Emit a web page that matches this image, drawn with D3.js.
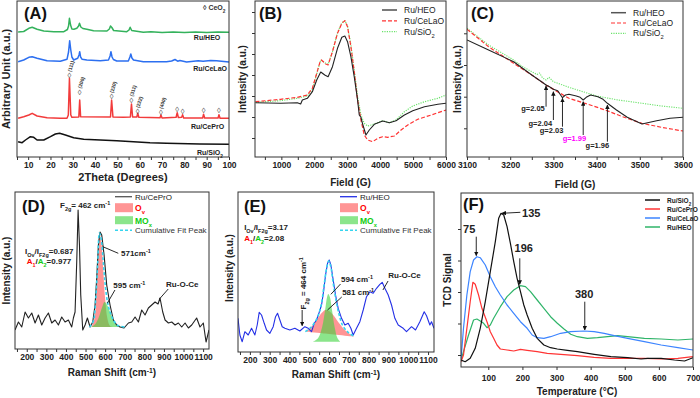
<!DOCTYPE html>
<html>
<head>
<meta charset="utf-8">
<script src="https://cdn.jsdelivr.net/npm/d3@7"></script>
<style>
  body { margin: 0; background: #fff; }
  svg { font-family: "Liberation Sans", Arial, sans-serif; }
</style>
</head>
<body>
<svg width="700" height="398"></svg>
<script>
// ---------- (A) XRD ----------
const xrdTicks = [10, 20, 30, 40, 50, 60, 70, 80, 90, 100];
const xrdHEO = [[5.5,125],[8,125.5],[10.3,128.7],[11.8,129.7],[14,127.7],[17,126],[21.5,125.3],[26,125.3],[27.6,127.5],[28.1,131],[28.5,138.7],[29,132],[29.6,128],[30.5,127.7],[31.8,128.7],[32.6,131],[33,133.7],[33.6,130],[34.5,128.5],[36.3,127.7],[39.3,126.3],[45.3,126],[46.4,128],[46.9,131],[47.5,129.5],[48.3,126.5],[54.2,125.3],[55.2,127],[55.7,129.7],[56.4,126.5],[61.6,124.7],[65,125.3],[70,124.5],[75,125],[80,124.5],[85,125],[90,124.4],[95,124.9],[100,124.7]];
const xrdCeLaO = [[5.5,95.3],[8,97],[10.3,99.7],[11.8,100.3],[14,98.7],[18.5,96.3],[24.4,95.7],[27.4,97.7],[28.1,105],[28.6,116.3],[29.1,107],[29.6,100],[30.4,97],[32.2,98.7],[32.8,102],[33.1,105.3],[33.5,100],[34.2,97.7],[36.3,97],[42.3,96.3],[46,97],[46.7,101],[47.1,105.3],[47.6,100],[48.2,97.5],[49.7,96],[54.9,96],[55.6,100],[56,103],[56.5,99],[57.2,97],[61.6,95.3],[72,95.3],[74.3,96],[75.8,97.5],[77,95.8],[78,96.5],[81,95],[86.2,96.3],[88.4,95.7],[91.8,96.5],[94.4,96.3],[100,95]];
const xrdCePrO = [[5.5,38.7],[8,40.3],[10.3,42],[11.8,43.7],[14,41],[18.5,39.3],[24.4,38.7],[27.4,38.7],[28,42],[28.5,78.7],[29.1,42],[29.6,39.7],[32.7,40],[33.1,57],[33.5,40.3],[46.9,40],[47.4,57],[48,40],[52.7,39.7],[55.8,40],[56.3,53],[56.8,40],[58.7,40],[59.1,43.7],[59.6,39.7],[69.1,39.3],[69.5,42],[70,39],[76.3,39.7],[76.8,44.3],[77.3,39.5],[78.8,39.7],[79.2,42.3],[79.7,39],[88.2,39],[88.6,42.7],[89.1,39],[95.1,39],[95.5,42.3],[96,38.7],[100,38.7]];
const xrdSiO2 = [[5.5,15.3],[7.3,14.3],[8.8,17],[11,20.3],[12.5,19.7],[14,17],[17,17],[20,20.3],[22.2,23],[24.1,23.7],[26.7,22],[30.4,19.3],[34.9,17.7],[42.3,17],[49.7,16.3],[57.2,15.3],[64.6,14.3],[72,13.7],[86.9,13],[100,12.7]];
const ceo2Peaks = [28.5, 33.1, 47.4, 56.3, 59.1, 69.5, 76.8, 79.2, 88.6, 95.5];
const ceo2Marks = [81, 64.3, 59.7, 56.3, 44.7, 43.7, 47, 44.7, 46, 46];
const hklLabels = ["(111)", "(200)", "(220)", "(311)", "(222)", "(400)"];

// ---------- (B) EPR wide ----------
const eprTicks = [1000, 2000, 3000, 4000, 5000, 6000];
const eprYTicks = [19, 40, 61, 82, 103, 124, 145];
const eprHEO = [[215,54.3],[977,53.7],[1485,54.3],[1587,53],[1638,57],[1790,58.7],[1942,65.3],[2074,77],[2196,85],[2318,82],[2420,80.3],[2552,90.3],[2705,108.7],[2837,119.7],[2929,121],[3010,115.3],[3112,100.3],[3213,80.3],[3315,57],[3366,42],[3417,39.7],[3468,33],[3569,22],[3671,27],[3823,32.7],[4077,36],[4280,34.3],[4483,36.3],[4737,42],[4991,46.3],[5347,50.3],[5753,52.7],[6000,53.7]];
const eprCeLaO = [[215,55.3],[977,57.7],[1485,59.7],[1790,62],[1942,68.7],[2074,83.7],[2176,95.3],[2217,97],[2349,93],[2420,92],[2552,105.3],[2705,123.7],[2837,133.7],[2929,136.3],[3010,130.3],[3112,110.3],[3213,85.3],[3315,57],[3417,37],[3518,22],[3620,17],[3772,15.3],[3925,18.7],[4077,20.3],[4229,19.7],[4432,21],[4635,27],[4839,32],[5143,37.7],[5550,42],[6000,47]];
const eprSiO2 = [[215,54.7],[977,56.3],[1485,58.7],[1790,61],[1942,67.7],[2074,83],[2196,97],[2349,93.7],[2420,92.7],[2552,105.3],[2705,124.3],[2837,134.3],[2929,136.3],[3010,131],[3112,112],[3213,87],[3315,60.3],[3417,42],[3518,33.7],[3620,31],[3722,32],[3925,34.3],[4077,36.3],[4280,34.3],[4483,37],[4737,45.3],[4991,51],[5347,55.3],[5753,58.7],[6000,62]];

// ---------- (C) EPR zoom ----------
const esrTicks = [3100, 3200, 3300, 3400, 3500, 3600];
const esrYTicks = [28.7, 60.3, 92, 123.7];
const esrHEO = [[3100,117],[3150,107],[3208,95.3],[3250,82],[3275,74.5],[3283,72],[3290,70.5],[3300,67.7],[3310,66.3],[3321,59.3],[3328,62],[3336,62.7],[3353,61],[3362,59.7],[3369,57],[3376,59.7],[3386,62],[3403,60.3],[3415,57.7],[3425,53.7],[3446,47],[3471,39.7],[3505,33],[3539,36.3],[3570,38.7],[3600,39.7]];
const esrCeLaO = [[3100,127.7],[3150,110.3],[3208,93.7],[3250,82],[3283,72],[3336,58.7],[3380,52.7],[3420,47],[3460,40.3],[3505,33.7],[3550,29.7],[3600,26]];
const esrSiO2 = [[3100,128.7],[3150,112],[3208,97],[3230,90],[3250,85.3],[3262,82.5],[3268,84],[3275,79],[3283,77],[3290,79.7],[3300,75.3],[3336,69.7],[3400,61],[3450,57],[3505,53.7],[3550,51],[3600,48.7]];
const gLabels = ["g=2.05", "g=2.04", "g=2.03", "g=1.99", "g=1.96"];
const gFields = [3283, 3300, 3321, 3369, 3425];

// ---------- (D)/(E) Raman ----------
const ramanTicks = [200, 300, 400, 500, 600, 700, 800, 900, 1000, 1100];
const ramanCePrO = [[140,19],[157.5,27],[174.5,22],[191.5,37],[208.5,31],[225.5,36],[242.5,26],[259.5,34],[276.5,24],[293.5,31],[310.5,36],[327.5,26],[344.5,29],[361.5,24],[378.5,32],[395.5,27],[412.5,29],[429.5,22],[438,31],[446.5,37],[455,87],[462,139],[469,104],[475.5,54],[485.7,19],[497.6,24],[509.5,31],[523,22],[536.7,27],[548.6,44],[557,71],[565.6,104],[574,117],[582.6,114],[594.6,94],[608,64],[625,44],[642,29],[659,24],[676,22],[696.6,21],[718.7,26],[735.7,27],[752.7,32],[769.7,27],[786.7,39],[803.7,34],[820.7,41],[837.7,44],[854.7,47],[870,45],[880,51],[893.9,37],[905.8,29],[922.8,26],[939.8,27],[956.8,24],[973.8,26],[990.8,22],[1007.8,26],[1024.8,21],[1041.8,24],[1067,31],[1084,22],[1101,26],[1115,7],[1130,19]];
const ovFitD = [[530,22,22],[545,22,30],[555,22,55],[563,22,90],[571,22,115],[580,22,108],[590,22,80],[600,22,50],[612,22,30],[625,22,23],[640,22,22]];
const moxFitD = [[530,22,22],[550,22,25],[570,22,33],[585,22,42],[597,22,47],[610,22,44],[625,22,37],[645,22,28],[665,22,23.5],[685,22,22]];
const sumFitD = [[520,22],[540,28],[552,50],[562,85],[571,116],[580,110],[590,88],[600,65],[612,47],[625,37],[645,28],[665,23.5],[700,22]];

const ramanHEO = [[140,33.7],[149.5,17],[161.3,10.3],[174.7,20.3],[191.6,17],[208.4,23.7],[225.3,17],[237,27],[247.1,39.7],[258.9,37],[272.4,28.7],[284.2,22],[301,18.7],[317.8,25.3],[329.6,35.3],[339.7,38.7],[351.5,32],[363.3,25.3],[376.8,23.7],[402,22],[427.3,23.7],[452.5,21],[477.8,25.3],[494.6,23.7],[511.5,20.3],[524.9,28.7],[536.7,32],[548.5,38.7],[562,47],[572.1,60.3],[582.2,77],[592.3,88.7],[600.7,92],[609.1,87],[620.9,72],[632.7,57],[646.1,43.7],[663,33.7],[679.8,27],[696.6,28.7],[710.1,23.7],[721.9,17],[738.7,23.7],[755.6,30.3],[772.4,42],[789.2,55.3],[806.1,60.3],[822.9,58.7],[839.7,63.7],[856.6,67.7],[868.4,69.7],[881.8,63.7],[898.7,57],[915.5,47],[932.3,33.7],[949.2,27],[974.4,23.7],[991.2,20.3],[1016.5,25.3],[1036.7,22],[1058.6,30.3],[1080.5,40.3],[1092.3,36.3],[1109.1,27],[1117.5,30.3],[1130,23.7]];
const ovFitE = [[483,20.3,20.3],[510,19.8,25],[540,19.2,33],[565,18.7,39.5],[581,18.4,42],[600,18,41],[625,17.5,36],[650,17,29],[680,16.3,22],[705,15.8,18],[727,15.3,15.3]];
const moxFitE = [[520,10.3,10.3],[545,10.3,14],[565,10.3,25],[580,10.3,42],[590,10.3,55],[596,10.3,58],[604,10.3,55],[614,10.3,43],[628,10.3,25],[642,10.3,14],[656,10.3,10.3]];
const sumFitE = [[480,20.3],[510,25],[540,34],[560,47],[575,67],[588,84],[598,91],[608,86],[620,70],[635,52],[650,38],[670,26],[700,19],[730,15.3]];

// ---------- (F) H2-TPR ----------
const tprTicks = [100, 200, 300, 400, 500, 600, 700];
const tprYTicks = [12, 43.5, 75, 106.5, 138];
const tprSiO2 = [[20,7],[32.3,5.3],[47,8.7],[61.7,18.7],[76.4,38.7],[91.2,65.3],[105.9,95.3],[120.6,125.3],[130.4,148.7],[137.3,153.7],[145.2,152],[155,140.3],[164.8,123.7],[174.6,105.3],[184.4,88.7],[194.3,75.3],[204.1,62],[213.9,52],[228.6,38.7],[243.3,28.7],[263,22],[282.6,19.3],[302.3,18],[331.7,16.7],[361.2,15.3],[410.3,12.7],[459.3,10.3],[508.4,9.3],[547.7,8],[567.3,8.7],[606.6,8.7],[645.9,7],[675.3,6],[700,9.3]];
const tprCePrO = [[20,5.3],[27.3,12],[37.2,38.7],[47,65.3],[54.8,84.7],[61.7,82.7],[71.5,72],[81.3,58.7],[96.1,45.3],[105.9,35.3],[115.7,28.7],[125.5,22],[135.3,18],[155,17],[174.6,16],[194.3,17.7],[213.9,16.7],[243.3,15.3],[272.8,13.7],[312.1,12.7],[361.2,11.3],[410.3,9.7],[459.3,8.7],[557.5,8.7],[606.6,8],[655.7,8.7],[700,10.3]];
const tprCeLaO = [[20,7],[27.3,38.7],[37.2,72],[47,95.3],[56.8,107],[66.6,110.3],[76.4,109.3],[91.2,102],[105.9,90.3],[120.6,80.3],[135.3,72],[155,62],[174.6,53.7],[194.3,45.3],[213.9,38.7],[228.6,32],[243.3,29.3],[263,28.7],[282.6,30.3],[312.1,33.7],[341.5,35.3],[380.8,36],[410.3,35.3],[439.7,33.7],[469.2,31.3],[508.4,28.7],[557.5,25.3],[606.6,22],[655.7,19.3],[700,17]];
const tprHEO = [[20,7],[27.3,15.3],[42.1,32],[56.8,47],[66.6,48],[76.4,46],[86.3,43.7],[96.1,39.3],[105.9,42],[115.7,48.7],[135.3,60.3],[155,70.3],[174.6,77],[194.3,81.3],[209,80.3],[223.7,75.3],[243.3,67],[263,58.7],[282.6,50.3],[302.3,43.7],[321.9,38],[341.5,32.7],[361.2,30.3],[390.6,28.7],[420.1,29.3],[449.5,30.3],[479,31.3],[508.4,30.3],[557.5,28.7],[606.6,28],[655.7,27],[700,28]];

// ---------- drawing ----------
const svg = d3.select("svg");
const defs = svg.append("defs");
defs.append("marker").attr("id", "arr")
  .attr("viewBox", "0 0 10 10").attr("refX", 9).attr("refY", 5)
  .attr("markerWidth", 5).attr("markerHeight", 5).attr("orient", "auto")
  .append("path").attr("d", "M0,0L10,5L0,10z").attr("fill", "#111");

let clipId = 0;
function panel(o) {
  const g = svg.append("g");
  const x = d3.scaleLinear().domain(o.xd).range([o.l, o.r]);
  const y = d3.scaleLinear().domain(o.yd).range([o.b, o.t]);
  const id = "clip" + (clipId++);
  defs.append("clipPath").attr("id", id).append("rect")
    .attr("x", o.l).attr("y", o.t).attr("width", o.r - o.l).attr("height", o.b - o.t);
  const plot = g.append("g").attr("clip-path", `url(#${id})`);

  const xa = g.append("g").attr("transform", `translate(0,${o.b})`)
    .call(d3.axisBottom(x).tickValues(o.xt).tickSize(3).tickSizeOuter(0).tickPadding(o.pad || 2)
      .tickFormat(d => o.xl.includes(d) ? d : ""));
  xa.select(".domain").remove();
  xa.selectAll("text").attr("font-size", 8.5).attr("font-weight", "bold").attr("fill", "#222")
    .attr("font-family", "Liberation Sans, Arial, sans-serif");
  xa.selectAll("line").attr("stroke", "#333");
  if (o.yt) {
    const ya = g.append("g").attr("transform", `translate(${o.l},0)`)
      .call(d3.axisLeft(y).tickValues(o.yt).tickSize(3).tickFormat(""));
    ya.select(".domain").remove();
    ya.selectAll("line").attr("stroke", "#333");
  }
  g.append("rect").attr("x", o.l).attr("y", o.t).attr("width", o.r - o.l).attr("height", o.b - o.t)
    .attr("fill", "none").attr("stroke", "#333").attr("stroke-width", 1);

  g.append("text").attr("x", (o.l + o.r) / 2).attr("y", o.xtY)
    .attr("text-anchor", "middle").attr("font-size", o.tsize || 10).attr("font-weight", "bold").attr("fill", "#222")
    .call(t => rich(t, o.xtitle));
  g.append("text").attr("transform", `translate(${o.ytX},${o.ytY || (o.t + o.b) / 2}) rotate(-90)`)
    .attr("text-anchor", "middle").attr("font-size", o.tsize || 10).attr("font-weight", "bold").attr("fill", "#222")
    .text(o.ytitle);
  g.append("text").attr("x", o.lab[0]).attr("y", o.lab[1])
    .attr("font-size", 16.5).attr("font-weight", "bold").attr("fill", "#111").text(o.label);
  return { g, plot, x, y };
}

// parts: string or [text, "sub"|"sup"|"", color]
function rich(t, parts) {
  if (typeof parts === "string") parts = [parts];
  const fs = +t.attr("font-size") || 8;
  parts.forEach(p => {
    const [s, mode, col] = Array.isArray(p) ? p : [p, "", null];
    const ts = t.append("tspan").text(s);
    if (mode === "sub") ts.attr("baseline-shift", "sub").attr("font-size", fs * 0.68);
    if (mode === "sup") ts.attr("baseline-shift", "super").attr("font-size", fs * 0.68);
    if (col) ts.attr("fill", col);
  });
  return t;
}
function label(g, x, y, parts, opt = {}) {
  const t = g.append("text").attr("x", x).attr("y", y)
    .attr("font-size", opt.size || 8).attr("font-weight", opt.weight || "bold")
    .attr("text-anchor", opt.anchor || "start").attr("fill", opt.fill || "#222");
  if (opt.rotate) t.attr("transform", `rotate(${opt.rotate},${x},${y})`);
  return rich(t, parts);
}
function arrow(g, x1, y1, x2, y2, head = true) {
  const l = g.append("line").attr("x1", x1).attr("y1", y1).attr("x2", x2).attr("y2", y2)
    .attr("stroke", "#111").attr("stroke-width", 0.9);
  if (head) l.attr("marker-end", "url(#arr)");
}
function drawLine(P, data, color, opt = {}) {
  const line = d3.line().x(d => P.x(d[0])).y(d => P.y(d[1]));
  if (opt.curve) line.curve(opt.curve);
  P.plot.append("path").datum(data).attr("d", line).attr("fill", "none")
    .attr("stroke", color).attr("stroke-width", opt.w || 1)
    .attr("stroke-dasharray", opt.dash || null).attr("stroke-linejoin", "round");
}
function drawArea(P, data, color, op) {
  const area = d3.area().x(d => P.x(d[0])).y0(d => P.y(d[1])).y1(d => P.y(d[2])).curve(d3.curveCatmullRom);
  P.plot.append("path").datum(data).attr("d", area).attr("fill", color).attr("fill-opacity", op);
}

// ----- (A)
const A = panel({ l: 17, r: 229, t: 1, b: 157, xd: [5, 100], yd: [0, 156], xt: [5,10,15,20,25,30,35,40,45,50,55,60,65,70,75,80,85,90,95,100],
  xl: xrdTicks, xtitle: "2Theta (Degrees)", xtY: 181, ytitle: "Arbitrary Unit (a.u.)", ytX: 10, tsize: 11,
  label: "(A)", lab: [24, 19] });
drawLine(A, xrdSiO2, "#111", { w: 1.5 });
drawLine(A, xrdCePrO, "#f23b3b", { w: 1.5 });
drawLine(A, xrdCeLaO, "#2c6ff0", { w: 1.5 });
drawLine(A, xrdHEO, "#34b25c", { w: 1.5 });
ceo2Peaks.forEach((p, i) => {
  A.g.append("text").attr("x", A.x(p)).attr("y", A.y(ceo2Marks[i]) + 2).attr("text-anchor", "middle")
    .attr("font-size", 7.5).attr("fill", "#444").text("\u25CA");
  if (hklLabels[i]) label(A.g, A.x(p) + 1.5, A.y(ceo2Marks[i]) - 4, hklLabels[i], { size: 5, rotate: -72, fill: "#333" });
});
label(A.g, 203, 10, ["\u25CA CeO", ["2", "sub"]], { size: 7, fill: "#333" });
[["Ru/HEO", 96.1, 117], ["Ru/CeLaO", 99.1, 86], ["Ru/CePrO", 97.8, 28]].forEach(d =>
  label(A.g, A.x(d[1]), A.y(d[2]), d[0], { size: 7, anchor: "end" }));
label(A.g, A.x(97.3), A.y(2), ["Ru/SiO", ["2", "sub"]], { size: 7, anchor: "end" });

// ----- (B)
const B = panel({ l: 255, r: 446, t: 1, b: 157, xd: [200, 6000], yd: [0, 156],
  xt: [500,1000,1500,2000,2500,3000,3500,4000,4500,5000,5500,6000], xl: eprTicks, yt: eprYTicks,
  xtitle: "Field (G)", xtY: 186, ytitle: "Intensity (a.u.)", ytX: 246, label: "(B)", lab: [259, 19] });
drawLine(B, eprSiO2, "#6be36b", { w: 1.2, dash: "1.2,1.2" });
drawLine(B, eprCeLaO, "#f33", { w: 1.2, dash: "4,2" });
drawLine(B, eprHEO, "#222", { w: 1.1 });
function legendLines(P, x0, y0, dy, items, size) {
  items.forEach((it, i) => {
    const yy = y0 + i * dy;
    P.g.append("line").attr("x1", x0).attr("x2", x0 + 15).attr("y1", yy).attr("y2", yy)
      .attr("stroke", it.c).attr("stroke-width", it.w || 1.2).attr("stroke-dasharray", it.dash || null);
    label(P.g, x0 + 22, yy + 3, it.t, { size: size || 8.5, weight: it.bold ? "bold" : "normal", fill: "#222" });
  });
}
legendLines(B, 382, 10, 10.8, [
  { t: "Ru/HEO", c: "#222" },
  { t: "Ru/CeLaO", c: "#f33", dash: "4,2" },
  { t: ["Ru/SiO", ["2", "sub"]], c: "#6be36b", dash: "1.2,1.2" }]);

// ----- (C)
const C = panel({ l: 467, r: 683, t: 1, b: 157, xd: [3100, 3600], yd: [0, 156],
  xt: [3100,3150,3200,3250,3300,3350,3400,3450,3500,3550,3600], xl: esrTicks, yt: esrYTicks,
  xtitle: "Field (G)", xtY: 188, ytitle: "Intensity (a.u.)", ytX: 461, label: "(C)", lab: [471, 19] });
drawLine(C, esrSiO2, "#6be36b", { w: 1.1, dash: "1.2,1.2" });
drawLine(C, esrCeLaO, "#f33", { w: 1.2, dash: "4,2" });
drawLine(C, esrHEO, "#222", { w: 1.1 });
legendLines(C, 611, 12.7, 10.3, [
  { t: "Ru/HEO", c: "#555", w: 1.5 },
  { t: "Ru/CeLaO", c: "#f33", dash: "4,2" },
  { t: ["Ru/SiO", ["2", "sub"]], c: "#6be36b", dash: "1.2,1.2" }]);
// arrow tail, arrow head, text end field, text baseline
[[50.3, 71, 3280, 46.3], [37, 65.3, 3297, 31.3], [30.3, 58.7, 3323, 23.7], [22, 55.3, 3376, 16.3], [15.3, 52, 3429, 8.7]]
  .forEach((a, i) => {
    arrow(C.g, C.x(gFields[i]), C.y(a[0]), C.x(gFields[i]), C.y(a[1]));
    label(C.g, C.x(a[2]), C.y(a[3]), gLabels[i], { size: 7.5, anchor: "end", fill: i === 3 ? "#f0f" : "#222" });
  });

// ----- (D)
const ramanMinor = [150,200,250,300,350,400,450,500,550,600,650,700,750,800,850,900,950,1000,1050,1100];
const D = panel({ l: 15, r: 209, t: 192, b: 349, xd: [140, 1130], yd: [0, 157], xt: ramanMinor, xl: ramanTicks,
  xtitle: ["Raman Shift (cm", ["-1", "sup"], ")"], xtY: 376, ytitle: "Intensity (a.u.)", ytX: 10,
  label: "(D)", lab: [22, 212] });
drawArea(D, ovFitD, "#ff5c5c", 0.65);
drawArea(D, moxFitD, "#3ed43e", 0.6);
drawLine(D, ramanCePrO, "#222", { w: 1.1 });
drawLine(D, sumFitD, "#36d4ee", { w: 1.6, dash: "3,2", curve: d3.curveCatmullRom });
function fitLegend(P, x0, y0, first, firstColor) {
  P.g.append("line").attr("x1", x0).attr("x2", x0 + 17).attr("y1", y0).attr("y2", y0)
    .attr("stroke", firstColor).attr("stroke-width", 1.3);
  label(P.g, x0 + 20, y0 + 3, first, { size: 8, weight: "normal" });
  P.g.append("rect").attr("x", x0).attr("y", y0 + 6.5).attr("width", 18).attr("height", 9)
    .attr("fill", "#ff5c5c").attr("fill-opacity", 0.65);
  label(P.g, x0 + 20, y0 + 14, ["O", ["v", "sub"]], { size: 8.5, fill: "#f00" });
  P.g.append("rect").attr("x", x0).attr("y", y0 + 19.5).attr("width", 18).attr("height", 8)
    .attr("fill", "#3ed43e").attr("fill-opacity", 0.6);
  label(P.g, x0 + 20, y0 + 27, ["MO", ["x", "sub"]], { size: 8.5, fill: "#1c1" });
  P.g.append("line").attr("x1", x0).attr("x2", x0 + 17).attr("y1", y0 + 33.5).attr("y2", y0 + 33.5)
    .attr("stroke", "#36d4ee").attr("stroke-width", 1.6).attr("stroke-dasharray", "3,2");
  label(P.g, x0 + 20, y0 + 36.5, "Cumulative Fit Peak", { size: 8, weight: "normal", fill: "#333" });
}
fitLegend(D, 115, 196.7, "Ru/CePrO", "#555");
label(D.g, D.x(370), D.y(141.3), ["F", ["2g", "sub"], "= 462 cm", ["-1", "sup"]], { size: 8 });
label(D.g, D.x(191.5), D.y(94.7), ["I", ["Ov", "sub"], "/I", ["F2g", "sub"], "=0.687"], { size: 8 });
label(D.g, D.x(200), D.y(84.7), [["A", "", "#f00"], ["1", "sub", "#f00"], "/", ["A", "", "#1c1"], ["2", "sub", "#1c1"], "=0.977"], { size: 8 });
arrow(D.g, D.x(588), D.y(102.3), D.x(667), D.y(95.7), false);
label(D.g, D.x(681), D.y(93.3), ["571cm", ["-1", "sup"]], { size: 8 });
arrow(D.g, D.x(611), D.y(45.7), D.x(650), D.y(59), false);
label(D.g, D.x(642), D.y(61), ["595 cm", ["-1", "sup"]], { size: 8 });
arrow(D.g, D.x(877), D.y(50), D.x(922), D.y(60), false);
label(D.g, D.x(911), D.y(62.3), "Ru-O-Ce", { size: 8 });

// ----- (E)
const E = panel({ l: 238, r: 434, t: 192, b: 352, xd: [140, 1130], yd: [0, 160], xt: ramanMinor, xl: ramanTicks,
  xtitle: ["Raman Shift (cm", ["-1", "sup"], ")"], xtY: 378, ytitle: "Intensity (a.u.)", ytX: 233, ytY: 268,
  label: "(E)", lab: [244, 212] });
drawArea(E, ovFitE, "#ff5c5c", 0.65);
drawArea(E, moxFitE, "#3ed43e", 0.6);
drawLine(E, ramanHEO, "#2430e6", { w: 1.1 });
drawLine(E, sumFitE, "#36d4ee", { w: 1.6, dash: "3,2", curve: d3.curveCatmullRom });
fitLegend(E, 340, 196.7, "Ru/HEO", "#2430e6");
label(E.g, E.x(171), E.y(122), ["I", ["Ov", "sub"], "/I", ["F2g", "sub"], "=3.17"], { size: 8 });
label(E.g, E.x(171), E.y(111), [["A", "", "#f00"], ["1", "sub", "#f00"], "/", ["A", "", "#1c1"], ["2", "sub", "#1c1"], "=2.08"], { size: 8 });
label(E.g, E.x(482), E.y(68.7), ["F", ["2g", "sub"], " = 464 cm", ["-1", "sup"]], { size: 8, rotate: -90, anchor: "middle" });
arrow(E.g, E.x(464), E.y(42), E.x(464), E.y(26.3));
arrow(E.g, E.x(609), E.y(57.7), E.x(658), E.y(68), false);
label(E.g, E.x(660), E.y(69.7), ["594 cm", ["-1", "sup"]], { size: 8 });
arrow(E.g, E.x(592), E.y(42), E.x(664), E.y(55), false);
label(E.g, E.x(666), E.y(57), ["581 cm", ["-1", "sup"]], { size: 8 });
arrow(E.g, E.x(872), E.y(62), E.x(898), E.y(71), false);
label(E.g, E.x(899), E.y(73.7), "Ru-O-Ce", { size: 8 });

// ----- (F)
const F = panel({ l: 461, r: 693, t: 193, b: 367, xd: [20, 700], yd: [0, 174],
  xt: tprTicks, xl: tprTicks, yt: tprYTicks, pad: 5,
  xtitle: "Temperature (\u00B0C)", xtY: 395, ytitle: "TCD Signal", ytX: 451, ytY: 280,
  label: "(F)", lab: [463, 210] });
drawLine(F, tprHEO, "#2fb469", { w: 1.2 });
drawLine(F, tprCeLaO, "#3c84ff", { w: 1.2 });
drawLine(F, tprCePrO, "#ff3434", { w: 1.2 });
drawLine(F, tprSiO2, "#111", { w: 1.2 });
legendLines(F, 645, 200, 9, [
  { t: ["Ru/SiO", ["2", "sub"]], c: "#111", w: 1.5, bold: true },
  { t: "Ru/CePrO", c: "#ff3434", w: 1.5, bold: true },
  { t: "Ru/CeLaO", c: "#3c84ff", w: 1.5, bold: true },
  { t: "Ru/HEO", c: "#2fb469", w: 1.5, bold: true }], 6.5);
arrow(F.g, F.x(194), F.y(154.7), F.x(140), F.y(153.7));
label(F.g, F.x(199), F.y(150), "135", { size: 11 });
arrow(F.g, F.x(64.7), F.y(130.3), F.x(64.7), F.y(111.3));
label(F.g, F.x(44), F.y(133.7), "75", { size: 11, anchor: "middle" });
arrow(F.g, F.x(192.3), F.y(108.7), F.x(192.3), F.y(82.7));
label(F.g, F.x(204), F.y(114.7), "196", { size: 11, anchor: "middle" });
arrow(F.g, F.x(382.8), F.y(65.3), F.x(382.8), F.y(37));
label(F.g, F.x(380.8), F.y(68.7), "380", { size: 11, anchor: "middle" });
</script>
</body>
</html>
